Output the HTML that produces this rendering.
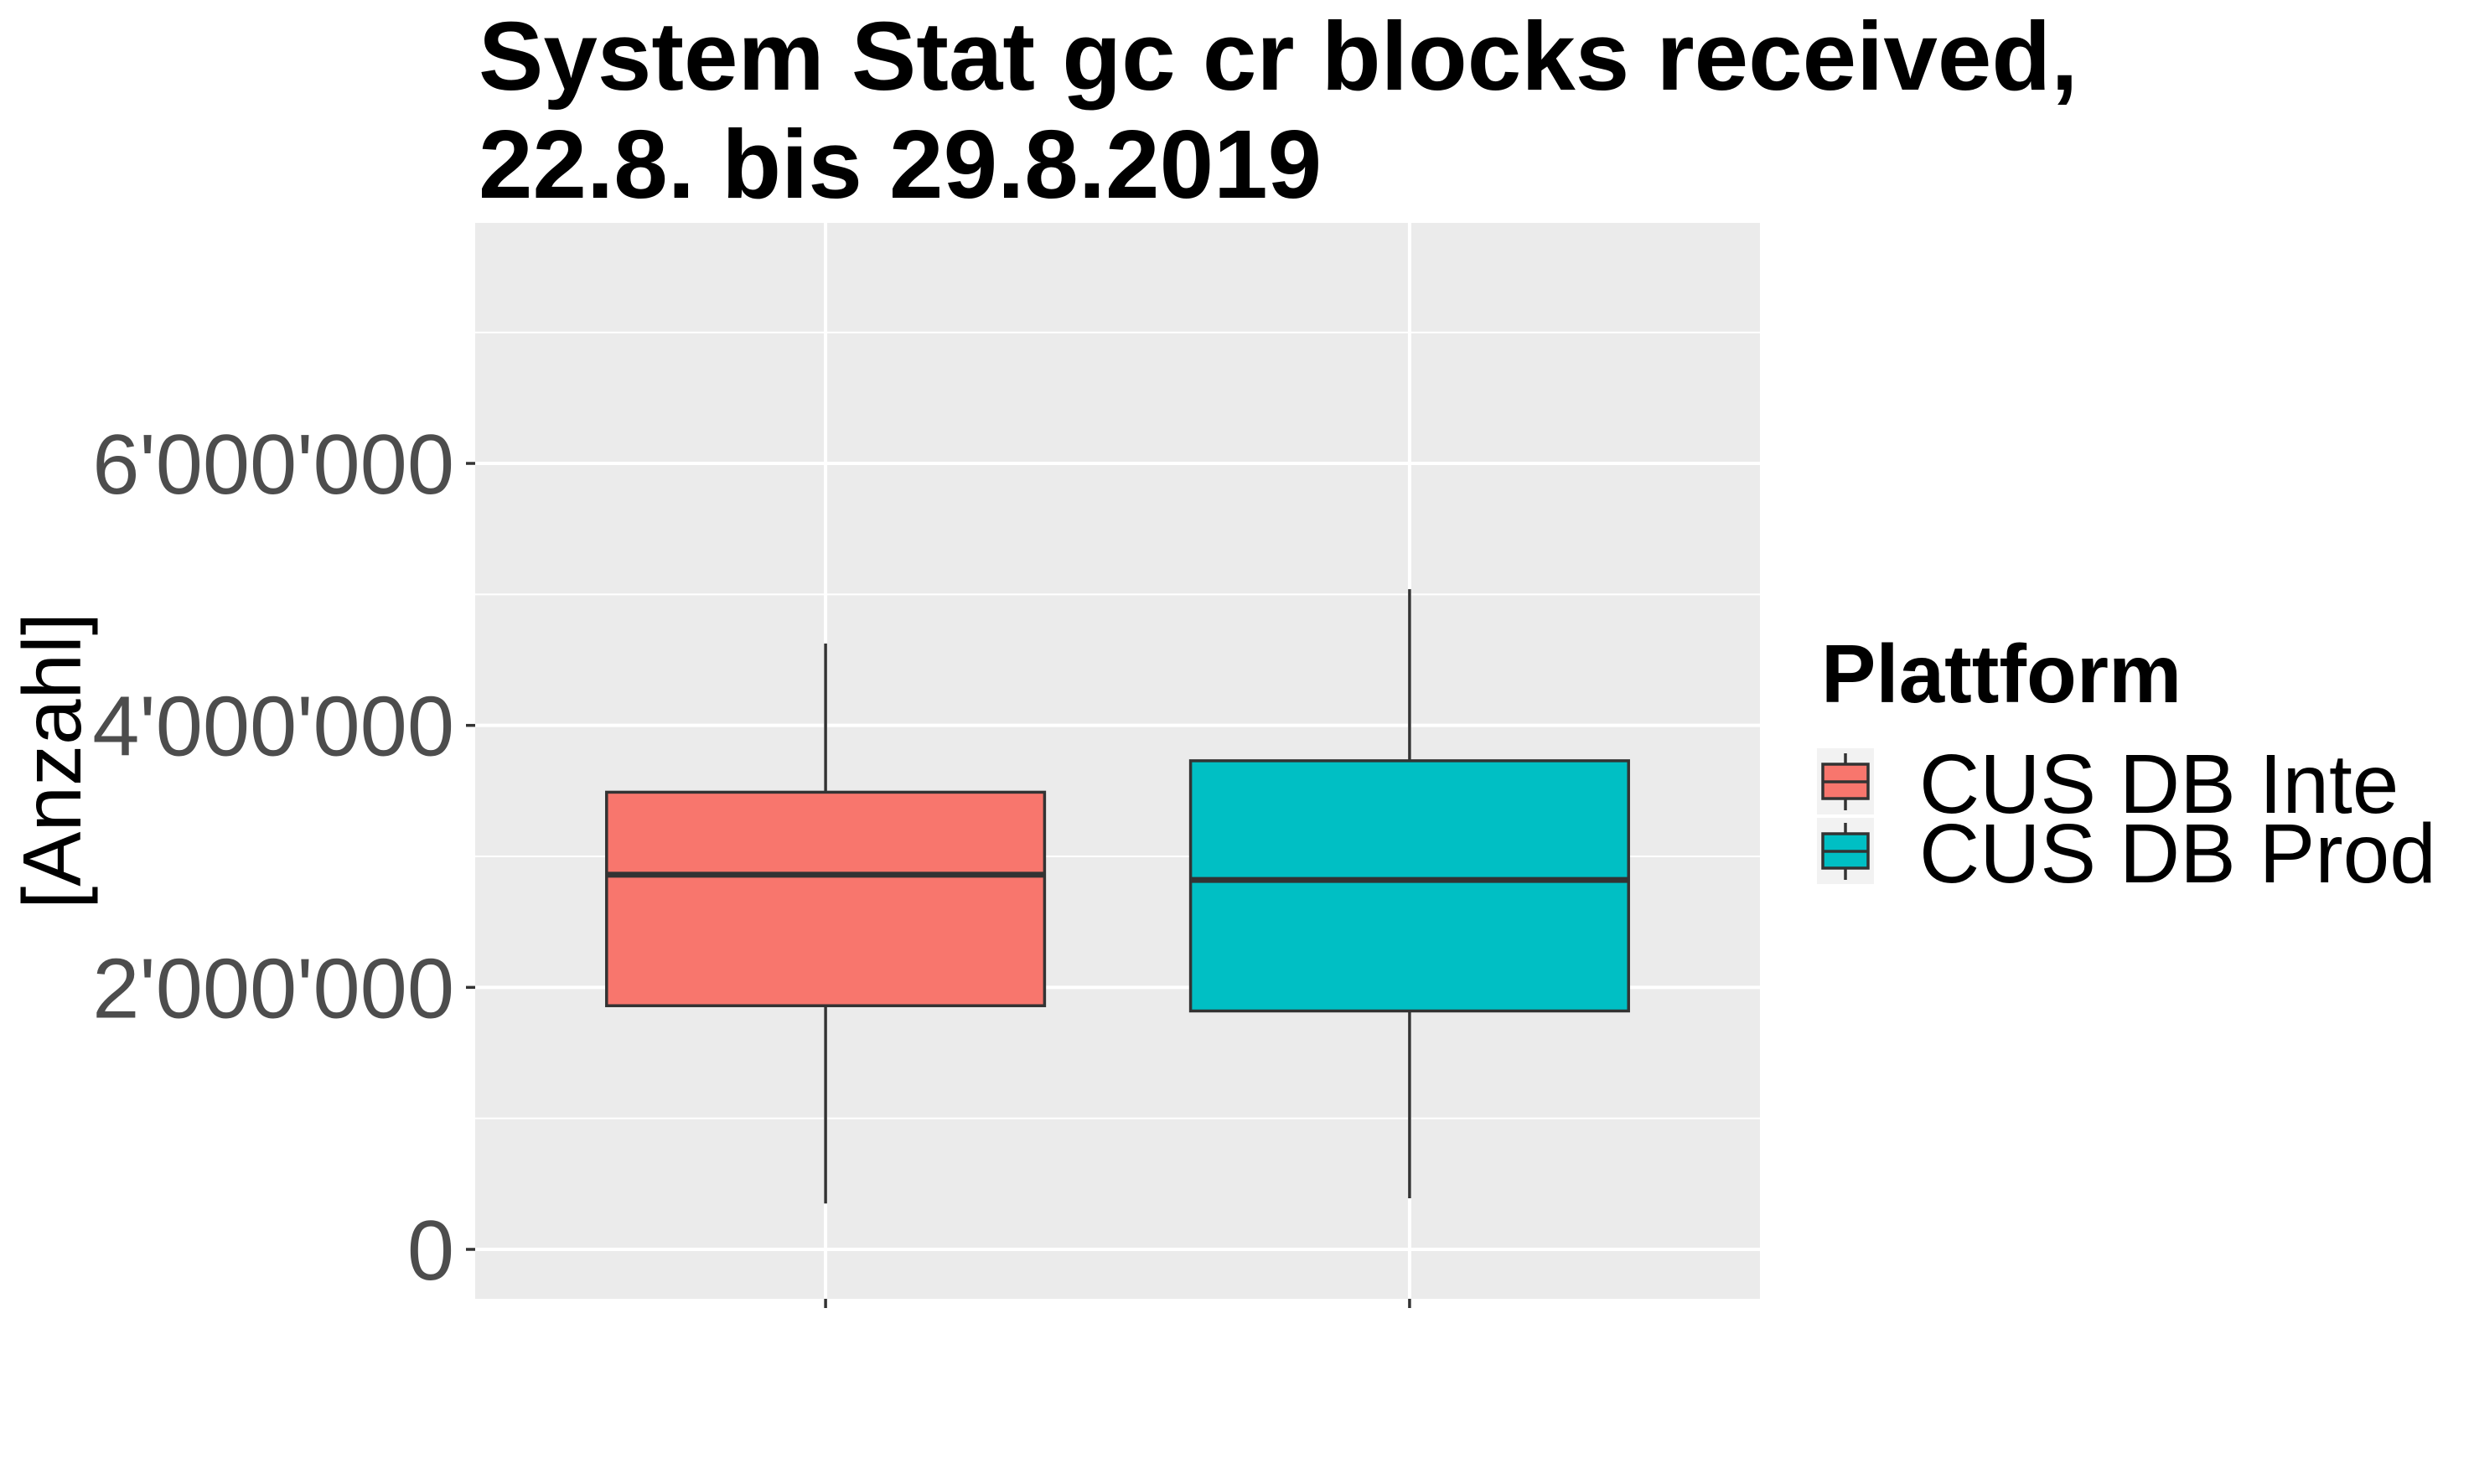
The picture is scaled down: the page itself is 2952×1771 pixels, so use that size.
<!DOCTYPE html>
<html><head><meta charset="utf-8"><style>
html,body{margin:0;padding:0;background:#fff;}
svg{display:block;}
text{font-family:"Liberation Sans",Arial,sans-serif;}
</style></head><body>
<svg id="chart" width="2952" height="1771" viewBox="0 0 2952 1771" xmlns="http://www.w3.org/2000/svg">
<rect width="2952" height="1771" fill="#fff"/>
<text x="571" y="107" font-size="116" font-weight="bold" fill="#000">System Stat gc cr blocks received,</text>
<text x="571" y="236" font-size="116" font-weight="bold" fill="#000">22.8. bis 29.8.2019</text>
<rect x="567" y="266" width="1533" height="1284" fill="#ebebeb"/>
<g id="grid"></g>
<g id="boxes"></g>
<g id="yaxis"></g>
<text transform="translate(96,908) rotate(-90)" text-anchor="middle" font-size="98" fill="#000">[Anzahl]</text>
<text x="2173" y="838" font-size="98" font-weight="bold" fill="#000">Plattform</text>
<g id="legend"></g>
</svg>
<script>
const categories = ["CUS DB Inte", "CUS DB Prod"];
const fills = ["#f8766d", "#00bfc4"];
const whiskerLow = [350000, 390000];
const q1 = [1860000, 1820000];
const median = [2860000, 2820000];
const q3 = [3490000, 3730000];
const whiskerHigh = [4625000, 5040000];
const yMajorTicks = [0, 2000000, 4000000, 6000000];
const yTickLabels = ["0", "2'000'000", "4'000'000", "6'000'000"];
const yMinorTicks = [1000000, 3000000, 5000000, 7000000];

const NS = "http://www.w3.org/2000/svg";
const panel = {left: 567, right: 2100, top: 266, bottom: 1550};
const y0px = 1491, pxPerUnit = 156.33 / 1e6;
function yScale(v) { return y0px - v * pxPerUnit; }
const unit = (panel.right - panel.left) / (categories.length + 0.2);
function xScale(i) { return panel.left + unit * (0.6 + i); }
function mk(tag, attrs, parent) {
  const e = document.createElementNS(NS, tag);
  for (const k in attrs) e.setAttribute(k, attrs[k]);
  parent.appendChild(e);
  return e;
}
const grid = document.getElementById('grid');
yMinorTicks.forEach(v => {
  const l = mk('line', {x1: panel.left, x2: panel.right, y1: yScale(v), y2: yScale(v), stroke: '#fff', 'stroke-width': 2}, grid);
  
  
});
yMajorTicks.forEach(v => {
  const l = mk('line', {x1: panel.left, x2: panel.right, y1: yScale(v), y2: yScale(v), stroke: '#fff', 'stroke-width': 4}, grid);
  
  
});
categories.forEach((c, i) => {
  const l = mk('line', {x1: xScale(i), x2: xScale(i), y1: panel.top, y2: panel.bottom, stroke: '#fff', 'stroke-width': 4}, grid);
  
  
});
const boxes = document.getElementById('boxes');
const halfW = unit * 0.375;
categories.forEach((c, i) => {
  const g = mk('g', {}, boxes);
  
  
  const cx = xScale(i);
  mk('line', {x1: cx, x2: cx, y1: yScale(whiskerHigh[i]), y2: yScale(q3[i]), stroke: '#333', 'stroke-width': 3.5}, g);
  mk('line', {x1: cx, x2: cx, y1: yScale(q1[i]), y2: yScale(whiskerLow[i]), stroke: '#333', 'stroke-width': 3.5}, g);
  mk('rect', {x: cx - halfW, y: yScale(q3[i]), width: 2 * halfW, height: yScale(q1[i]) - yScale(q3[i]), fill: fills[i], stroke: '#333', 'stroke-width': 3.5}, g);
  mk('line', {x1: cx - halfW, x2: cx + halfW, y1: yScale(median[i]), y2: yScale(median[i]), stroke: '#333', 'stroke-width': 7}, g);
  const t = mk('line', {x1: cx, x2: cx, y1: panel.bottom, y2: panel.bottom + 11, stroke: '#333', 'stroke-width': 3.5}, boxes);
  
  
});
const yaxis = document.getElementById('yaxis');
yMajorTicks.forEach((v, i) => {
  const t = mk('line', {x1: panel.left - 11, x2: panel.left, y1: yScale(v), y2: yScale(v), stroke: '#333', 'stroke-width': 3.5}, yaxis);
  
  
  const lb = mk('text', {x: 542, y: yScale(v) + 36, 'text-anchor': 'end', 'font-size': 101, fill: '#4d4d4d'}, yaxis);
  lb.textContent = yTickLabels[i];
  
  
});
const legend = document.getElementById('legend');
categories.forEach((c, i) => {
  const oy = 893 + i * 83;
  const g = mk('g', {}, legend);
  
  
  mk('rect', {x: 2168, y: oy, width: 68, height: 79, fill: '#f2f2f2'}, g);
  mk('line', {x1: 2202, x2: 2202, y1: oy + 6, y2: oy + 74, stroke: '#333', 'stroke-width': 3.5}, g);
  mk('rect', {x: 2175, y: oy + 19, width: 54, height: 41, fill: fills[i], stroke: '#333', 'stroke-width': 3.5}, g);
  mk('line', {x1: 2175, x2: 2229, y1: oy + 40, y2: oy + 40, stroke: '#333', 'stroke-width': 3.5}, g);
  const t = mk('text', {x: 2290, y: oy + 77, 'font-size': 100, fill: '#000'}, g);
  t.textContent = c;
  
  
});
</script>
</body></html>
